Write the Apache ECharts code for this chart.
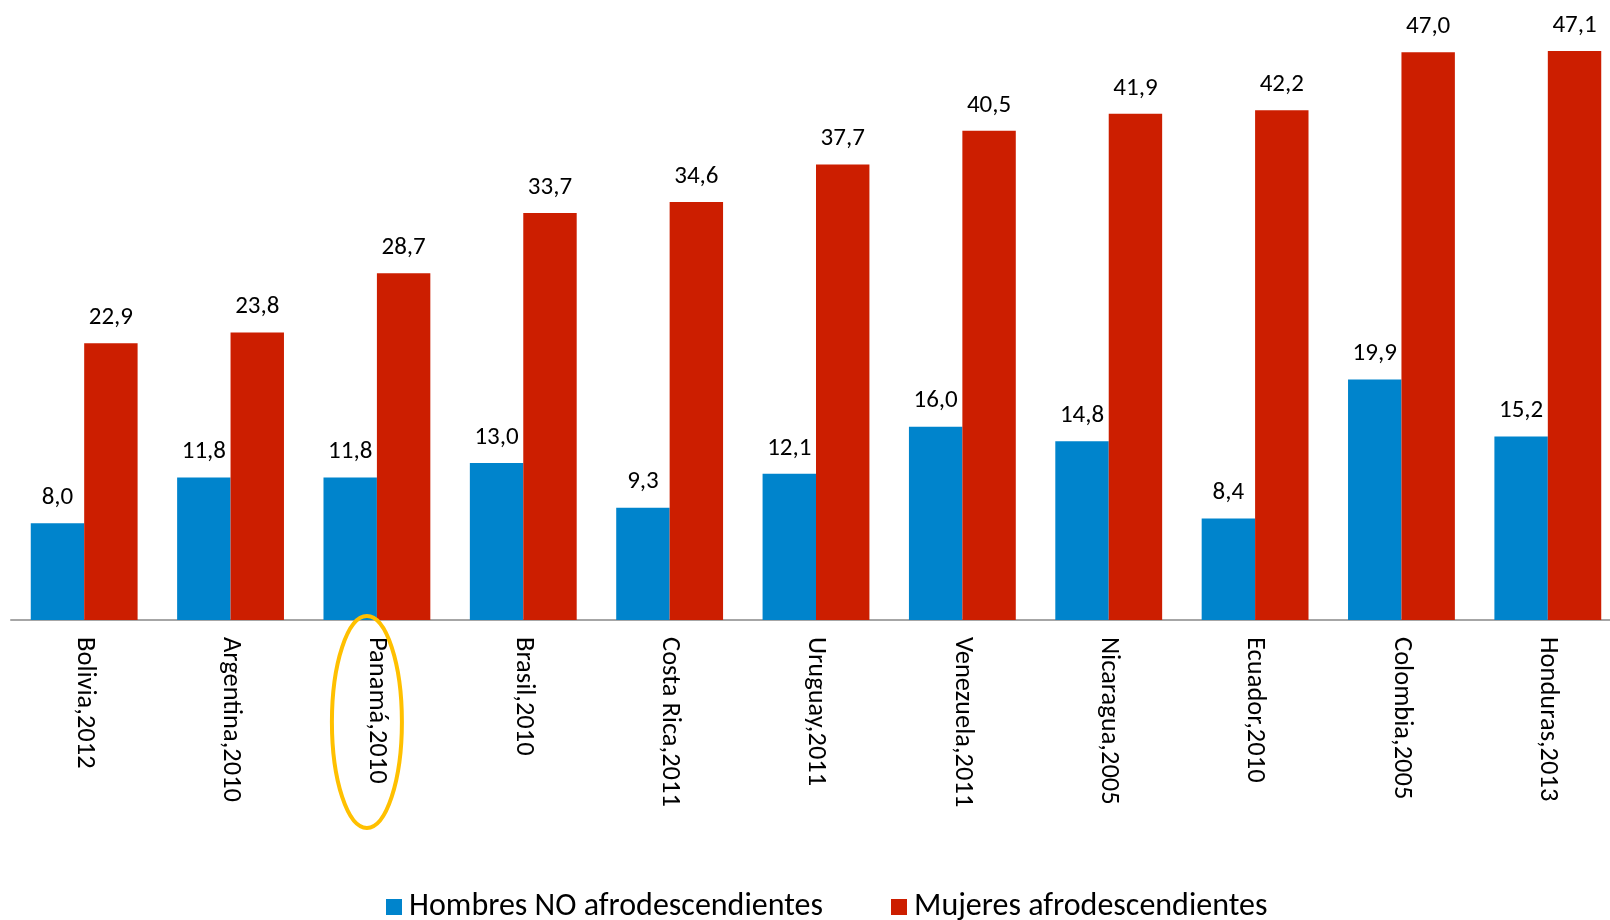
<!DOCTYPE html>
<html><head><meta charset="utf-8">
<script src="https://cdn.jsdelivr.net/npm/echarts@6/dist/echarts.min.js"></script>
<style>html,body{margin:0;padding:0;background:#fff}#c{width:1610px;height:920px}</style>
</head><body><div id="c"></div>
<script>
var categories = ["Bolivia,2012","Argentina,2010","Panamá,2010","Brasil,2010","Costa Rica,2011","Uruguay,2011","Venezuela,2011","Nicaragua,2005","Ecuador,2010","Colombia,2005","Honduras,2013"];
var hombres = [8.0, 11.8, 11.8, 13.0, 9.3, 12.1, 16.0, 14.8, 8.4, 19.9, 15.2];
var mujeres = [22.9, 23.8, 28.7, 33.7, 34.6, 37.7, 40.5, 41.9, 42.2, 47.0, 47.1];
var seriesNames = ["Hombres NO afrodescendientes", "Mujeres afrodescendientes"];
var highlighted = "Panamá,2010";

var FONT = "Carlito, Lato, sans-serif";
var chart = echarts.init(document.getElementById('c'));
function fmt(p){ return p.value.toFixed(1).replace('.', ','); }
var labelCfg = {show:true, position:'top', distance:13, formatter:fmt, color:'#000', fontFamily:FONT, fontSize:25};
chart.setOption({
  animation:false,
  grid:{left:11, width:1610, top:16, bottom:300, containLabel:false, outerBoundsMode:'none'},
  legend:{left:381, top:886, itemWidth:16, itemHeight:16, itemGap:68, icon:'rect',
    textStyle:{fontFamily:FONT, fontSize:32, color:'#000', padding:[0,0,0,2]}},
  xAxis:{type:'category', data:categories,
    axisLine:{lineStyle:{color:'#A6A6A6', width:2}}, axisTick:{show:false},
    axisLabel:{rotate:-90, margin:17, fontFamily:FONT, fontSize:26.5, color:'#000', interval:0}},
  yAxis:{type:'value', min:0, max:50, show:false, splitLine:{show:false}},
  series:[
    {name:seriesNames[0], type:'bar', data:hombres, barGap:'0%', barCategoryGap:'27%',
     itemStyle:{color:'#0084CC'}, label:labelCfg},
    {name:seriesNames[1], type:'bar', data:mujeres, barGap:'0%', barCategoryGap:'27%',
     itemStyle:{color:'#CC1E00'}, label:labelCfg}
  ]
});
var p = chart.convertToPixel({xAxisIndex:0, yAxisIndex:0}, [highlighted, 0]);
chart.setOption({graphic:[{type:'ellipse', shape:{cx:p[0]-10, cy:p[1]+102, rx:35, ry:106},
  style:{fill:'none', stroke:'#FFC000', lineWidth:4}, z:100}]});
</script></body></html>
